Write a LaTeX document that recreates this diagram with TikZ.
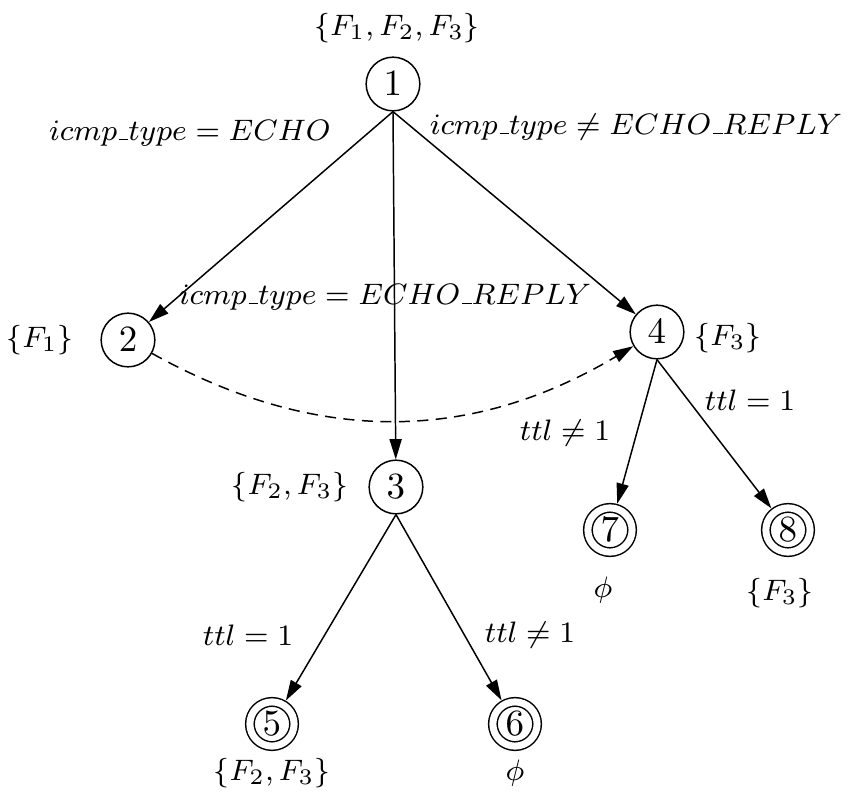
\documentclass[tikz,border=0pt]{standalone}
\usetikzlibrary{arrows.meta}
\newcommand{\usc}{\kern.06em\vbox{\hrule width .3em}}
\begin{document}
\begin{tikzpicture}[
  x=0.95cm, y=0.95cm,
  snode/.style={circle, draw=black, inner sep=0pt, minimum size=5.1mm},
  fnode/.style={circle, draw=black, double, double distance=1.9pt, inner sep=0pt, minimum size=4.2mm, outer sep=1.4pt},
  edge/.style={draw=black, -{Triangle[length=5.5pt,width=3.3pt]}},
  trans/.style={dash pattern=on 3pt off 2pt},
  lbl/.style={font=\fontsize{8.4}{10}\selectfont}
]
  \useasboundingbox (0,0) rectangle (8.52,7.96);

  % estados
  \node[snode] (n1) at (3.93,7.12) {$1$};
  \node[snode] (n2) at (1.28,4.56) {$2$};
  \node[snode] (n4) at (6.57,4.64) {$4$};
  \node[snode] (n3) at (3.96,3.09) {$3$};
  \node[fnode] (n7) at (6.10,2.66) {$7$};
  \node[fnode] (n8) at (7.88,2.66) {$8$};
  \node[fnode] (n5) at (2.72,0.72) {$5$};
  \node[fnode] (n6) at (5.15,0.72) {$6$};

  % conjuntos de filtros
  \node[lbl] (f1) at (3.97,7.68) {$\{F_1, F_2, F_3\}$};
  \node[lbl] (f2) at (0.40,4.56) {$\{F_1\}$};
  \node[lbl] (f4) at (7.28,4.58) {$\{F_3\}$};
  \node[lbl] (f3) at (2.90,3.09) {$\{F_2, F_3\}$};
  \node[lbl] (f7) at (6.03,2.06) {$\phi$};
  \node[lbl] (f8) at (7.80,2.03) {$\{F_3\}$};
  \node[lbl] (f5) at (2.72,0.23) {$\{F_2, F_3\}$};
  \node[lbl] (f6) at (5.15,0.23) {$\phi$};

  % aristas
  \draw[edge] (n1.south) -- (n2);
  \draw[edge] (n1.south) -- (n3);
  \draw[edge] (n1.south) -- (n4);
  \draw[edge, trans] (n2) to[bend right=30] (n4);
  \draw[edge] (n4.south) -- (n7);
  \draw[edge] (n4.south) -- (n8);
  \draw[edge] (n3.south) -- (n5);
  \draw[edge] (n3.south) -- (n6);

  % condiciones
  \node[lbl] (c12) at (1.90,6.63) {$icmp\usc type = ECHO$};
  \node[lbl] (c14) at (6.36,6.69) {$icmp\usc type \neq ECHO\usc REPLY$};
  \node[lbl] (c13) at (3.85,4.99) {$icmp\usc type = ECHO\usc REPLY$};
  \node[lbl] (c47) at (5.65,3.63) {$ttl \neq 1$};
  \node[lbl] (c48) at (7.50,3.96) {$ttl = 1$};
  \node[lbl] (c35) at (2.48,1.61) {$ttl = 1$};
  \node[lbl] (c36) at (5.30,1.61) {$ttl \neq 1$};
\end{tikzpicture}
\end{document}
